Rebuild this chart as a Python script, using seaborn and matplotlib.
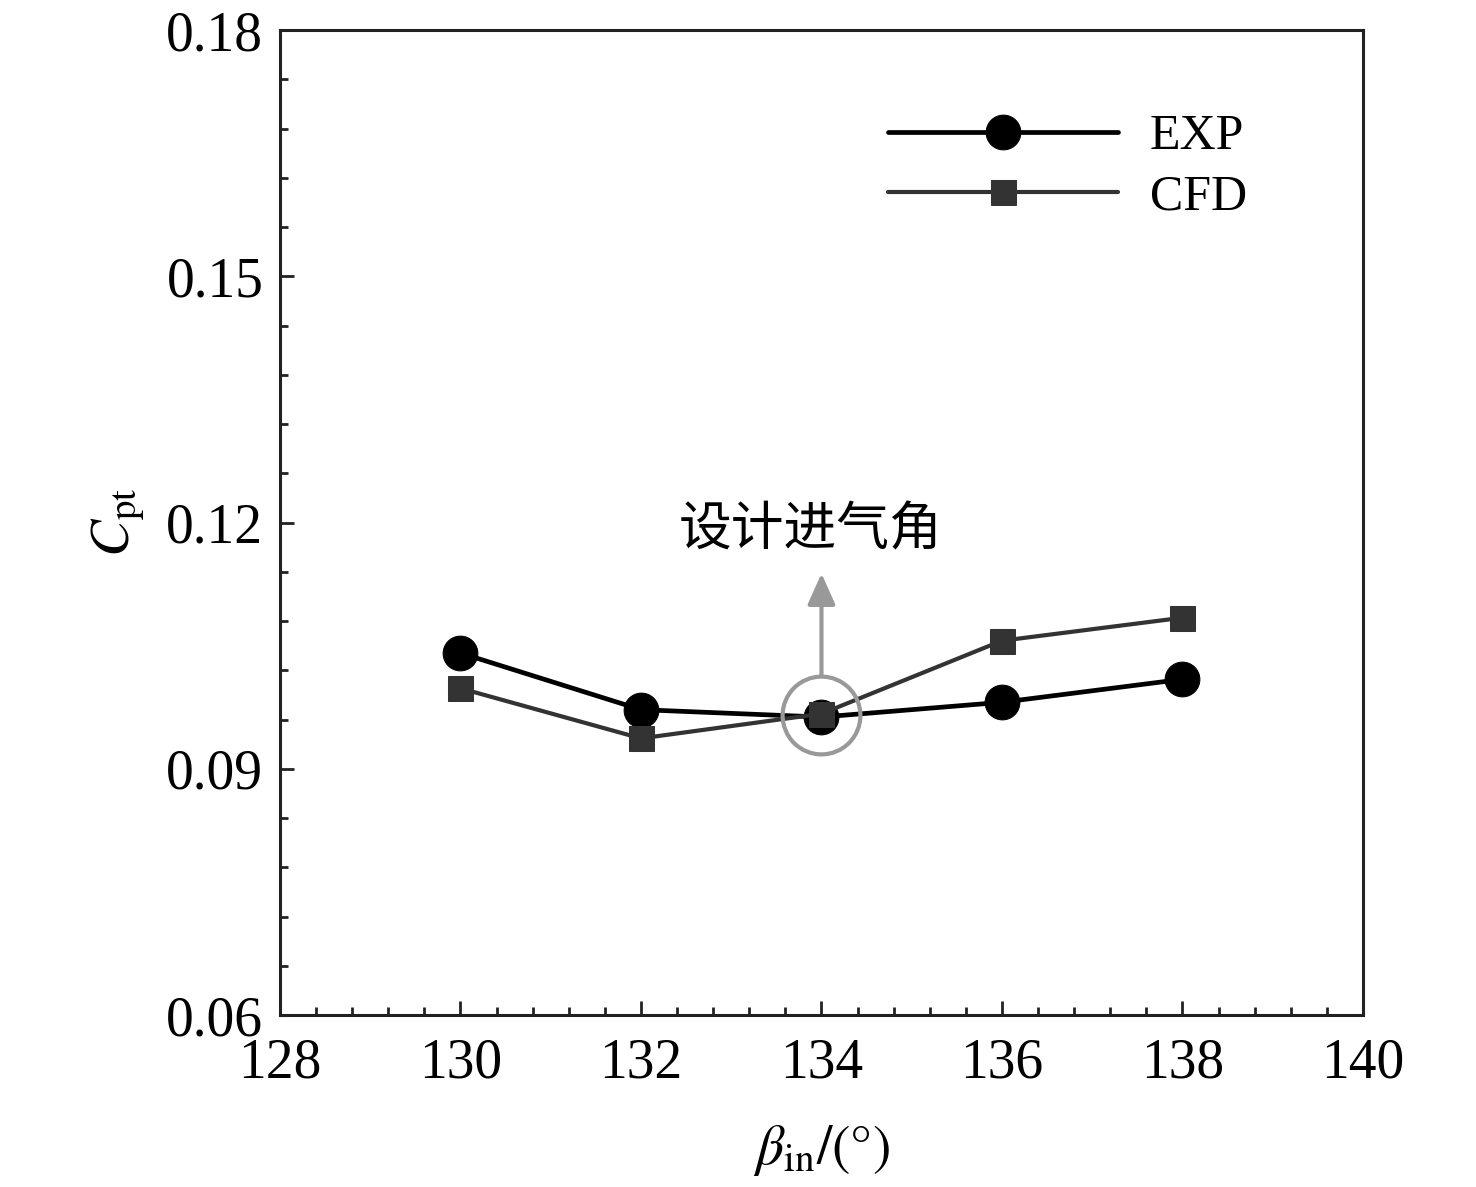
import numpy as np
import pandas as pd
import matplotlib
matplotlib.use("Agg")
import matplotlib.pyplot as plt
from matplotlib.ticker import MultipleLocator, AutoMinorLocator
import seaborn as sns

# data
beta_in = [130, 132, 134, 136, 138]
cpt_exp = [0.1041, 0.0972, 0.0963, 0.0981, 0.1009]
cpt_cfd = [0.0998, 0.0937, 0.0967, 0.1056, 0.1084]
design_beta = 134
design_cpt = 0.0965
note_text = "设计进气角"

sns.set_style("ticks")
plt.rcParams['font.family'] = ['Liberation Serif', 'Noto Sans CJK SC', 'DejaVu Sans']
plt.rcParams['mathtext.fontset'] = 'stix'
plt.rcParams['text.color'] = 'black'
plt.rcParams['axes.labelcolor'] = 'black'
plt.rcParams['xtick.color'] = '#222222'
plt.rcParams['ytick.color'] = '#222222'
plt.rcParams['xtick.labelcolor'] = 'black'
plt.rcParams['ytick.labelcolor'] = 'black'

fig = plt.figure(figsize=(14.76, 11.87), dpi=100)
ax = fig.add_axes([0.1897, 0.1449, 0.7337, 0.8298])

df = pd.DataFrame({'beta': beta_in, 'EXP': cpt_exp, 'CFD': cpt_cfd})

sns.lineplot(x='beta', y='EXP', data=df, ax=ax, color='black', lw=3.4,
             marker='o', markersize=25, mec='black', mfc='black', label='EXP')
sns.lineplot(x='beta', y='CFD', data=df, ax=ax, color='#333333', lw=3.0,
             marker='s', markersize=18, mec='#333333', mfc='#333333', label='CFD')

# design point marker circle and arrow
ax.plot([design_beta], [design_cpt], marker='o', markersize=56, mfc='none',
        mec='#999999', mew=3, ls='none', zorder=5)
ax.annotate('', xy=(design_beta, 0.1138), xytext=(design_beta, 0.1015),
            arrowprops=dict(arrowstyle='-|>,head_width=0.85,head_length=1.9',
                            color='#999999', lw=3, shrinkA=0, shrinkB=0))
ax.text(design_beta - 0.12, 0.1158, note_text, ha='center', va='bottom',
        fontsize=38, family=['Noto Sans CJK SC', 'DejaVu Sans'])

ax.set_xlim(128, 140)
ax.set_ylim(0.06, 0.18)
ax.xaxis.set_major_locator(MultipleLocator(2))
ax.xaxis.set_minor_locator(AutoMinorLocator(5))
ax.set_yticks([0.06, 0.09, 0.12, 0.15, 0.18])
ax.set_yticklabels(['0.06', '0.09', '0.12', '0.15', '0.18'])
ax.yaxis.set_minor_locator(AutoMinorLocator(5))

ax.tick_params(which='major', direction='in', length=10, width=2, labelsize=40,
               top=False, right=False)
ax.tick_params(axis='x', which='major', pad=16)
ax.tick_params(axis='y', which='major', pad=12)
ax.tick_params(which='minor', direction='in', length=6, width=2,
               top=False, right=False)
for s in ax.spines.values():
    s.set_linewidth(2.2)
    s.set_color('#222222')

ax.set_xlabel(r'$\beta_{\mathrm{in}}/(°)$', fontsize=40, labelpad=24)
ax.set_ylabel(r'$C_{\mathrm{pt}}$', fontsize=40, labelpad=14)

ax.legend(loc='upper left', bbox_to_anchor=(0.561, 0.915), frameon=False,
          fontsize=36, handlelength=4.6, handletextpad=0.65, labelspacing=0.28,
          borderpad=0, borderaxespad=0)

fig.savefig('out.png', dpi=100)
